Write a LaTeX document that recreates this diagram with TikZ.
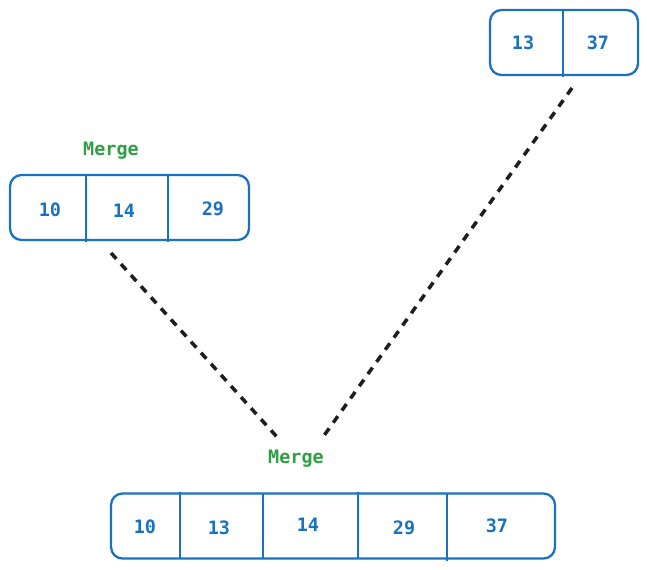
\documentclass[tikz,border=0pt]{standalone}
\usepackage{fontspec}
\setmonofont{DejaVu Sans Mono}
\usetikzlibrary{positioning}
\definecolor{cellblue}{HTML}{1971C2}
\definecolor{mergegreen}{HTML}{2F9E44}
\definecolor{inkdark}{HTML}{1E1E1E}
\begin{document}
\begin{tikzpicture}[x=0.02cm,y=-0.02cm,
    array/.style={draw=cellblue,line width=1.3pt,rounded corners=6.5pt,minimum height=1.3cm,inner sep=0pt},
    sep/.style={draw=cellblue,line width=1.3pt},
    val/.style={text=cellblue,font=\ttfamily\bfseries\fontsize{10.5}{12}\selectfont},
    lbl/.style={text=mergegreen,font=\ttfamily\bfseries\fontsize{10.5}{12}\selectfont},
    link/.style={draw=inkdark,line width=2pt,dash pattern=on 4.5pt off 4pt}]
   \useasboundingbox (0,0) rectangle (647,570);
   % arrays
   \node[array,minimum width=2.96cm] (top)   at (564,42.5)  {};
   \node[array,minimum width=4.78cm] (left)  at (129.5,207.5) {};
   \node[array,minimum width=8.88cm] (bot)   at (333,526)   {};
   \draw[sep] (563,10) -- (563,77);
   \draw[sep] (86,175) -- (86,242);
   \draw[sep] (168,175) -- (168,242);
   \draw[sep] (180,492) -- (180,559);
   \draw[sep] (263,494) -- (263,559);
   \draw[sep] (358,492) -- (358,559);
   \draw[sep] (447,494) -- (447,561);
   % values
   \node[val] (t1) at (523,43) {13};
   \node[val] (t2) at (598,43) {37};
   \node[val] (l1) at (50,210) {10};
   \node[val] (l2) at (124,211) {14};
   \node[val] (l3) at (213,209) {29};
   \node[val] (b1) at (145,527) {10};
   \node[val] (b2) at (219,528) {13};
   \node[val] (b3) at (308,525) {14};
   \node[val] (b4) at (404,528) {29};
   \node[val] (b5) at (497,526) {37};
   \node[lbl] (mergeL) at (111,151) {Merge};
   \node[lbl] (mergeB) at (296,459) {Merge};
   % links
   \coordinate (leftTail) at (111,253);
   \coordinate (topTail)  at (572,88);
   \coordinate (joinL)    at (277,437);
   \coordinate (joinR)    at (323,437);
   \draw[link] (leftTail) -- (joinL);
   \draw[link] (topTail) -- (joinR);
\end{tikzpicture}
\end{document}
